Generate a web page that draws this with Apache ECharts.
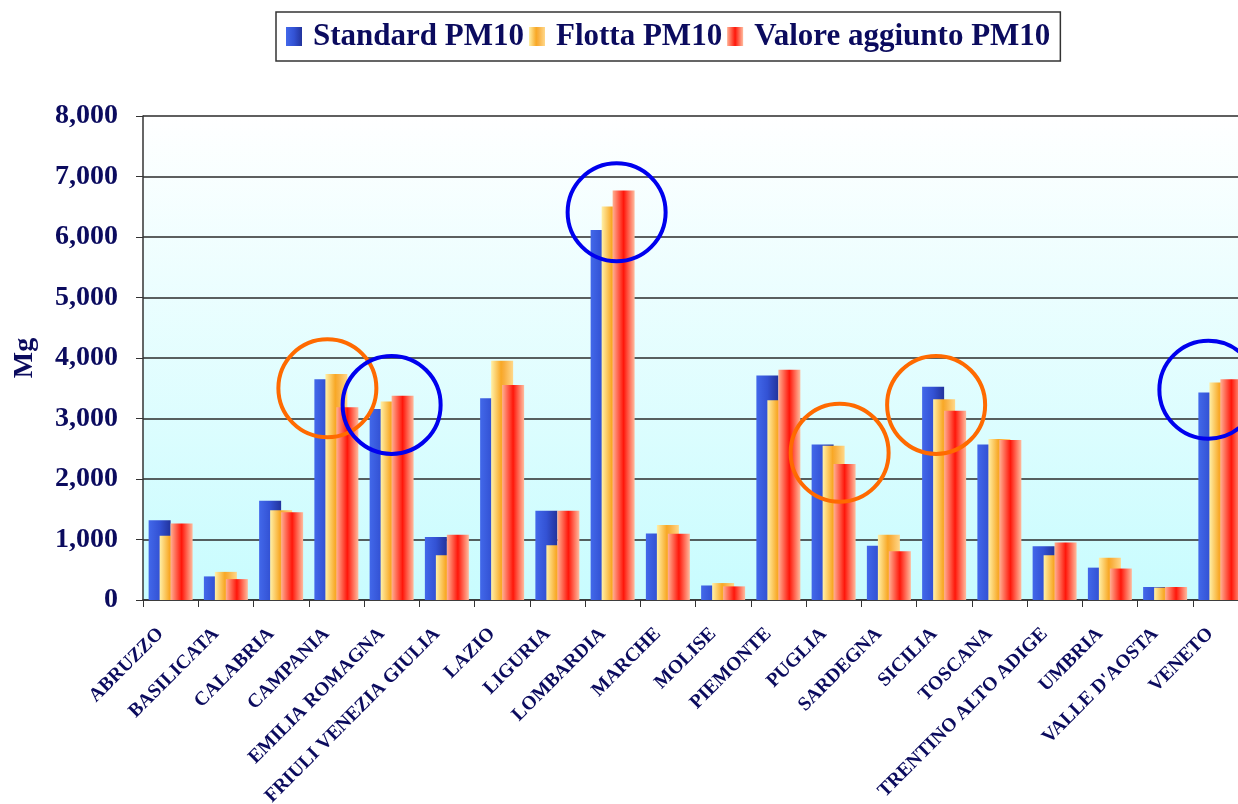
<!DOCTYPE html>
<html>
<head>
<meta charset="utf-8">
<script src="https://cdn.jsdelivr.net/npm/echarts@6/dist/echarts.min.js"></script>
<style>
html,body{margin:0;padding:0;background:#fff;}
#main{width:1238px;height:804px;}
</style>
</head>
<body>
<div id="main"></div>
<script>
const categories = ['ABRUZZO','BASILICATA','CALABRIA','CAMPANIA','EMILIA ROMAGNA','FRIULI VENEZIA GIULIA','LAZIO','LIGURIA','LOMBARDIA','MARCHE','MOLISE','PIEMONTE','PUGLIA','SARDEGNA','SICILIA','TOSCANA','TRENTINO ALTO ADIGE','UMBRIA',"VALLE D'AOSTA",'VENETO'];
const standardPM10 = [1320, 390, 1640, 3650, 3155, 1040, 3335, 1475, 6115, 1100, 240, 3710, 2570, 895, 3525, 2570, 890, 535, 215, 3430];
const flottaPM10   = [1060, 465, 1485, 3735, 3280, 740, 3955, 905, 6505, 1240, 280, 3300, 2550, 1080, 3320, 2660, 740, 700, 205, 3595];
const valorePM10   = [1265, 345, 1450, 3185, 3375, 1080, 3555, 1475, 6770, 1095, 225, 3805, 2250, 805, 3130, 2645, 950, 520, 215, 3650];
const yTicks = [0, 1000, 2000, 3000, 4000, 5000, 6000, 7000, 8000];
// highlight circles: [category, value, colour, horizontal nudge from the red bar]
const circleNotes = [
  ['CAMPANIA', 3500, '#ff6a00', -20],
  ['EMILIA ROMAGNA', 3225, '#0000ee', -11],
  ['LOMBARDIA', 6410, '#0000ee', -7],
  ['PUGLIA', 2435, '#ff6a00', -5],
  ['SICILIA', 3225, '#ff6a00', -19],
  ['VENETO', 3475, '#0000ee', -23]
];

const navy = '#0b0b5e';
const font = "'Liberation Serif', 'Times New Roman', serif";
const G = echarts.graphic.LinearGradient;
const blueGrad = new G(0,0,1,0,[{offset:0,color:'#4268ea'},{offset:0.5,color:'#3352d4'},{offset:1,color:'#22339c'}]);
const yellowGrad = new G(0,0,1,0,[{offset:0,color:'#fff0a8'},{offset:0.45,color:'#f8a826'},{offset:0.6,color:'#f9b040'},{offset:1,color:'#ffd88a'}]);
const redGrad = new G(0,0,1,0,[{offset:0,color:'#ffb092'},{offset:0.5,color:'#ff160a'},{offset:1,color:'#ffbc9e'}]);

const chart = echarts.init(document.getElementById('main'), null, {renderer:'canvas'});
chart.setOption({
  backgroundColor:'#ffffff',
  animation:false,
  legend:{
    left:276, top:12,
    padding:[9,10,9,10],
    borderColor:'#333', borderWidth:1.5,
    itemWidth:16, itemHeight:19, itemGap:5,
    icon:'rect',
    textStyle:{color:navy, fontFamily:font, fontWeight:'bold', fontSize:31, padding:[0,0,0,6]},
    data:['Standard PM10','Flotta PM10','Valore aggiunto PM10']
  },
  grid:{
    left:143, right:-10, top:116, bottom:204,
    containLabel:false, outerBoundsMode:'none',
    show:true, borderWidth:0,
    backgroundColor:new G(0,0,0,1,[{offset:0,color:'#ffffff'},{offset:1,color:'#c8fcfe'}])
  },
  xAxis:{
    type:'category',
    data:categories,
    axisLine:{lineStyle:{color:'#333', width:1.5}},
    axisTick:{show:true, length:7, lineStyle:{color:'#333'}},
    axisLabel:{interval:0, rotate:45, margin:21, padding:[0,14,0,0], color:navy, fontFamily:font, fontWeight:'bold', fontSize:19.5}
  },
  yAxis:{
    type:'value', min:0, max:8000, interval:1000,
    name:'Mg', nameLocation:'middle', nameGap:104, nameRotate:90,
    nameTextStyle:{color:navy, fontFamily:font, fontWeight:'bold', fontSize:28},
    axisLine:{show:true, lineStyle:{color:'#333', width:1.5}},
    axisTick:{show:true, length:7, lineStyle:{color:'#333'}},
    splitLine:{lineStyle:{color:'#2a2a2a', width:1.5}},
    axisLabel:{margin:25, color:navy, fontFamily:font, fontWeight:'bold', fontSize:28,
      formatter:v => yTicks.includes(v) ? v.toLocaleString('en-US') : ''}
  },
  series:[
    {name:'Standard PM10', type:'bar', data:standardPM10, barWidth:22, barGap:'-50%', itemStyle:{color:blueGrad}},
    {name:'Flotta PM10', type:'bar', data:flottaPM10, barWidth:22, barGap:'-50%', itemStyle:{color:yellowGrad}},
    {name:'Valore aggiunto PM10', type:'bar', data:valorePM10, barWidth:22, barGap:'-50%', itemStyle:{color:redGrad},
      markPoint:{
        symbol:'circle', symbolSize:98, silent:true,
        label:{show:false},
        data:circleNotes.map(c => ({coord:[c[0], c[1]], symbolOffset:[c[3],0],
          itemStyle:{color:'rgba(0,0,0,0)', borderColor:c[2], borderWidth:4}}))
      }
    }
  ]
});
</script>
</body>
</html>
